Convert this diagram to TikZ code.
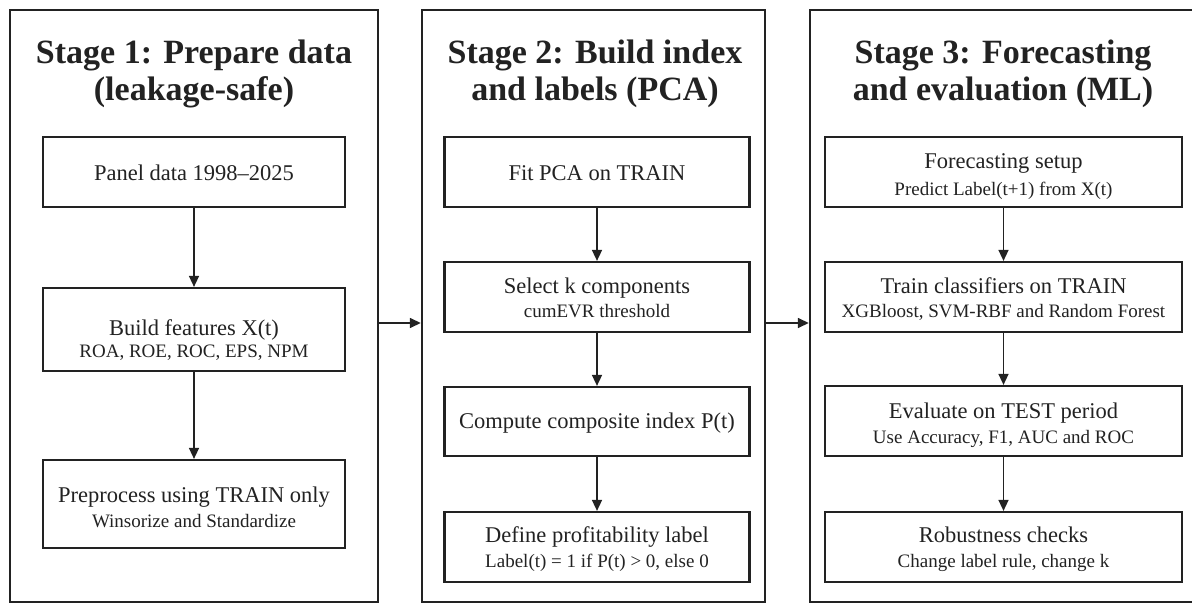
\documentclass[tikz,border=0pt]{standalone}
\usepackage{fontspec}
\setmainfont{Liberation Serif}
\usetikzlibrary{arrows.meta}
\definecolor{ink}{HTML}{222222}
\begin{document}
\begin{tikzpicture}[x=1pt,y=-1pt,
  panel/.style={draw=ink,line width=2.4pt,inner sep=0pt},
  box/.style={draw=ink,line width=2.2pt,inner sep=0pt},
  ttl/.style={anchor=base,text=ink,font=\fontsize{34}{37}\selectfont\bfseries,inner sep=0pt},
  mtxt/.style={anchor=base,text=ink,font=\fontsize{22.5}{25}\selectfont,inner sep=0pt},
  stxt/.style={anchor=base,text=ink,font=\fontsize{19}{22}\selectfont,inner sep=0pt},
  arr/.style={draw=ink,line width=1.5pt,-{Triangle[length=11pt,width=10pt]}}]
\useasboundingbox[fill=white] (0,0) rectangle (1192,605);

% panels
\node[panel,minimum width=368,minimum height=592] (p1) at (194,306) {};
\node[panel,minimum width=343,minimum height=592] (p2) at (593.5,306) {};
\node[panel,minimum width=387,minimum height=592] (p3) at (1003.5,306) {};

% titles
\node[ttl] (t1a) at (194,63) {Stage 1: Prepare data};
\node[ttl] (t1b) at (194,100) {(leakage-safe)};
\node[ttl] (t2a) at (595,63) {Stage 2: Build index};
\node[ttl] (t2b) at (595,100) {and labels (PCA)};
\node[ttl] (t3a) at (1003,63) {Stage 3: Forecasting};
\node[ttl] (t3b) at (1003,100) {and evaluation (ML)};

% stage 1 boxes
\node[box,minimum width=302,minimum height=70] (a1) at (194,172) {};
\node[box,minimum width=302,minimum height=83] (a2) at (194,329.5) {};
\node[box,minimum width=302,minimum height=88] (a3) at (194,504) {};
\node[mtxt] (a1m) at (194,180) {Panel data 1998–2025};
\node[mtxt] (a2m) at (194,335) {Build features X(t)};
\node[stxt] (a2s) at (194,357) {ROA, ROE, ROC, EPS, NPM};
\node[mtxt] (a3m) at (194,502) {Preprocess using TRAIN only};
\node[stxt] (a3s) at (194,527) {Winsorize and Standardize};

% stage 2 boxes
\node[box,minimum width=305,minimum height=70] (b1) at (597,172) {};
\node[box,minimum width=305,minimum height=70] (b2) at (597,297) {};
\node[box,minimum width=305,minimum height=69] (b3) at (597,421.5) {};
\node[box,minimum width=305,minimum height=70] (b4) at (597,547) {};
\node[mtxt] (b1m) at (597,180) {Fit PCA on TRAIN};
\node[mtxt] (b2m) at (597,293) {Select k components};
\node[stxt] (b2s) at (597,317) {cumEVR threshold};
\node[mtxt] (b3m) at (597,428) {Compute composite index P(t)};
\node[mtxt] (b4m) at (597,542) {Define profitability label};
\node[stxt] (b4s) at (597,567) {Label(t) = 1 if P(t) > 0, else 0};

% stage 3 boxes
\node[box,minimum width=357,minimum height=70] (c1) at (1003.5,172) {};
\node[box,minimum width=357,minimum height=70] (c2) at (1003.5,297) {};
\node[box,minimum width=357,minimum height=70] (c3) at (1003.5,421) {};
\node[box,minimum width=357,minimum height=70] (c4) at (1003.5,547) {};
\node[mtxt] (c1m) at (1003.5,168) {Forecasting setup};
\node[stxt] (c1s) at (1003.5,195) {Predict Label(t+1) from X(t)};
\node[mtxt] (c2m) at (1003.5,293) {Train classifiers on TRAIN};
\node[stxt] (c2s) at (1003.5,317) {XGBloost, SVM-RBF and Random Forest};
\node[mtxt] (c3m) at (1003.5,418) {Evaluate on TEST period};
\node[stxt] (c3s) at (1003.5,443) {Use Accuracy, F1, AUC and ROC};
\node[mtxt] (c4m) at (1003.5,542) {Robustness checks};
\node[stxt] (c4s) at (1003.5,567) {Change label rule, change k};

% vertical arrows
\draw[arr] (a1) -- (a2);
\draw[arr] (a2) -- (a3);
\draw[arr] (b1) -- (b2);
\draw[arr] (b2) -- (b3);
\draw[arr] (b3) -- (b4);
\draw[arr] (c1) -- (c2);
\draw[arr] (c2) -- (c3);
\draw[arr] (c3) -- (c4);

% horizontal arrows
\coordinate (m) at (0,323);
\draw[arr] (p1.east |- m) -- (p2.west |- m);
\draw[arr] (p2.east |- m) -- (p3.west |- m);
\end{tikzpicture}
\end{document}
